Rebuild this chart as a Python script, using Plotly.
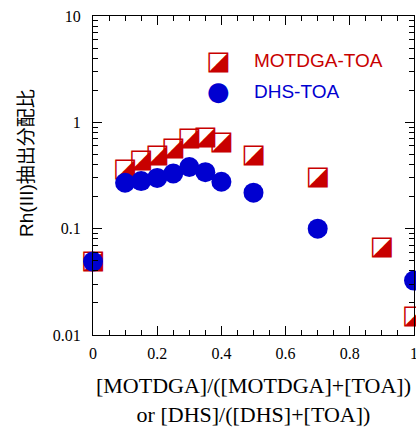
import plotly.graph_objects as go

# ---- data ----
x_motdga = [0, 0.1, 0.15, 0.2, 0.25, 0.3, 0.35, 0.4, 0.5, 0.7, 0.9, 1.0]
d_motdga = [0.049, 0.36, 0.44, 0.49, 0.57, 0.70, 0.72, 0.65, 0.49, 0.30, 0.066, 0.015]

x_dhs = [0, 0.1, 0.15, 0.2, 0.25, 0.3, 0.35, 0.4, 0.5, 0.7, 1.0]
d_dhs = [0.049, 0.27, 0.28, 0.30, 0.33, 0.38, 0.34, 0.276, 0.218, 0.10, 0.0325]

name_motdga = "MOTDGA-TOA"
name_dhs = "DHS-TOA"
x_title = "[MOTDGA]/([MOTDGA]+[TOA])<br>or [DHS]/([DHS]+[TOA])"
y_title = "Rh(III)抽出分配比"

RED = "#c80000"
BLUE = "#0000d0"
SERIF = "Liberation Serif, Times New Roman, serif"
SANS = "Liberation Sans, Arial, sans-serif"
GLYPH = "DejaVu Sans"

fig = go.Figure()

# MOTDGA-TOA: half-filled square glyph
fig.add_trace(go.Scatter(
    x=x_motdga, y=d_motdga, mode="text", text=["◪"] * len(x_motdga),
    textposition="middle center",
    textfont=dict(family=GLYPH, size=26, color=RED),
    cliponaxis=False, showlegend=False, name=name_motdga,
))

# DHS-TOA: filled circles
fig.add_trace(go.Scatter(
    x=x_dhs, y=d_dhs, mode="markers",
    marker=dict(symbol="circle", size=20, color=BLUE, line=dict(width=0)),
    cliponaxis=False, showlegend=False, name=name_dhs,
))

# legend (drawn inside the plot, as in the reference)
leg_x_sym = 0.390
leg_x_txt = 0.494
leg_y = [0.862, 0.764]
fig.add_annotation(xref="paper", yref="paper", x=leg_x_sym, y=leg_y[0], text="◪",
                   showarrow=False, xanchor="center", yanchor="middle",
                   font=dict(family=GLYPH, size=26, color=RED))
fig.add_annotation(xref="paper", yref="paper", x=leg_x_sym, y=leg_y[1], text="●",
                   showarrow=False, xanchor="center", yanchor="middle",
                   font=dict(family=GLYPH, size=26, color=BLUE))
fig.add_annotation(xref="paper", yref="paper", x=leg_x_txt, y=leg_y[0], text=name_motdga,
                   showarrow=False, xanchor="left", yanchor="middle",
                   font=dict(family=SANS, size=19, color=RED))
fig.add_annotation(xref="paper", yref="paper", x=leg_x_txt, y=leg_y[1], text=name_dhs,
                   showarrow=False, xanchor="left", yanchor="middle",
                   font=dict(family=SANS, size=19, color=BLUE))

# y-axis title (placed as in the reference, slightly above the axis centre)
fig.add_annotation(xref="paper", yref="paper", x=-0.205, y=0.54, text=y_title,
                   textangle=-90, showarrow=False, xanchor="center", yanchor="middle",
                   font=dict(family="Liberation Sans, Noto Sans CJK JP", size=19, color="black"))

fig.update_layout(
    width=416, height=427,
    margin=dict(l=93, r=2, t=16, b=92, autoexpand=False),
    paper_bgcolor="white", plot_bgcolor="white",
    showlegend=False,
    xaxis=dict(
        range=[0, 1], dtick=0.2, tick0=0, automargin=False,
        ticks="inside", ticklen=9, tickwidth=1.2, tickcolor="black",
        showline=True, linewidth=1.3, linecolor="black", mirror="ticks",
        showgrid=False, zeroline=False,
        minor=dict(dtick=0.05, ticks="inside", ticklen=5, tickwidth=1, tickcolor="black", showgrid=False),
        tickfont=dict(family=SERIF, size=16, color="black"),
        ticklabelstandoff=4, ticklabeloverflow="allow",
        title=dict(text=x_title, font=dict(family=SERIF, size=22, color="black"), standoff=21),
    ),
    yaxis=dict(
        type="log", range=[-2, 1], dtick=1, automargin=False,
        ticks="inside", ticklen=9, tickwidth=1.2, tickcolor="black",
        showline=True, linewidth=1.3, linecolor="black", mirror="ticks",
        showgrid=False, zeroline=False,
        minor=dict(ticks="inside", ticklen=5, tickwidth=1, tickcolor="black", showgrid=False),
        tickfont=dict(family=SERIF, size=16, color="black"),
        ticklabelstandoff=8, ticklabeloverflow="allow",
    ),
)

fig.write_html("out.html")
